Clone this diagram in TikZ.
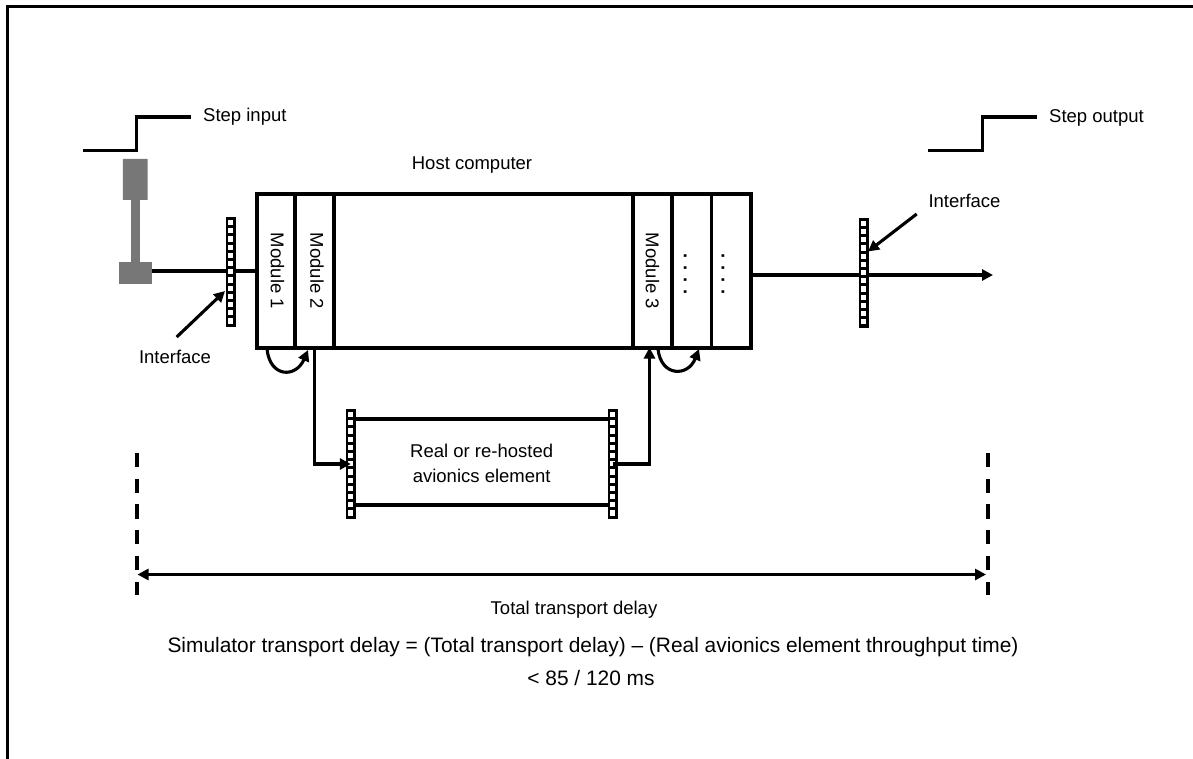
\documentclass[tikz,border=0pt]{standalone}
\usepackage{fontspec}
\setmainfont{Liberation Sans}
\usepackage{xcolor}
\usepackage{tikz}
\usetikzlibrary{arrows.meta, calc, shapes.misc}
\definecolor{stickgrey}{HTML}{777777}
\tikzset{hostcell/.style={draw,line width=3.6pt,minimum height=153.7pt,inner sep=0pt},
    celltext/.style={font=\fontsize{18.5}{25}\selectfont,inner sep=0pt},
    bigtext/.style={font=\fontsize{20.9}{25}\selectfont,inner sep=0pt},
    ifacestrip/.style={fill=black,minimum width=10pt,minimum height=110pt,inner sep=0pt},
    stickpart/.style={fill=stickgrey,inner sep=0pt},
    wire/.style={draw,line width=3.1pt},
    stepline/.style={draw,line width=3.6pt},
    tipped/.style={wire,-{Triangle[length=11pt,width=11pt]}},
    delaymark/.style={draw,line width=3.6pt,dash pattern=on 14.3pt off 11.4pt}}

\begin{document}
\begin{tikzpicture}[x=1pt,y=-1pt]
    \useasboundingbox (0,0) rectangle (1193,759);
    % Open frame
    \draw[line width=3.6pt] (7.5,759) -- (7.5,6.5) -- (1193,6.5);

    % Step shapes
    \draw[stepline] (83,150.5) -- (136.5,150.5) -- (136.5,117) -- (190.5,117);
    \node[celltext,anchor=west] (stepin) at (203,117) {Step input};
    \draw[stepline] (928,150.5) -- (982.5,150.5) -- (982.5,117) -- (1037,117);
    \node[celltext,anchor=west] (stepout) at (1049,118) {Step output};

    % Control stick
    \node[stickpart,minimum width=9.5pt,minimum height=64pt] (shaft) at (135.3,231) {};
    \node[stickpart,chamfered rectangle,chamfered rectangle xsep=3pt,chamfered rectangle ysep=3pt,
        minimum width=24.7pt,minimum height=41pt] (grip) at (135.3,179.5) {};
    \node[stickpart,minimum width=32.7pt,minimum height=22.6pt] (gripbase) at (135.3,273) {};

    % Host computer cells
    \node[celltext] (hostlabel) at (472,165) {Host computer};
    \node[hostcell,minimum width=38.3pt] (mod1) at (276,271) {};
    \node[hostcell,minimum width=39pt] (mod2) at (314.5,271) {};
    \node[hostcell,minimum width=299pt] (hostmid) at (483.5,271) {};
    \node[hostcell,minimum width=39pt] (mod3) at (652.5,271) {};
    \node[hostcell,minimum width=39.5pt] (dots1) at (691.7,271) {};
    \node[hostcell,minimum width=39.2pt] (dots2) at (731.1,271) {};
    \node[celltext] at ([xshift=1.5pt]mod1.center) {\rotatebox{-90}{Module 1}};
    \node[celltext] at ([xshift=2.5pt]mod2.center) {\rotatebox{-90}{Module 2}};
    \node[celltext] at (mod3.center) {\rotatebox{-90}{Module 3}};
    \node[celltext] at ([xshift=-6.5pt,yshift=-3pt]dots1.center) {\rotatebox{-90}{\bfseries . . . .}};
    \node[celltext] at ([xshift=-8pt,yshift=-3pt]dots2.center) {\rotatebox{-90}{\bfseries . . . .}};

    % Input and output lines
    \coordinate (outtip) at (993,275);
    \draw[wire] (mod1.west -| gripbase.east) -- (mod1.west);
    \draw[tipped] (outtip -| dots2.east) -- (outtip);

    % Avionics element
    \node[celltext,align=center,minimum width=252pt,minimum height=86pt] (element) at (481.7,463) {Real or re-hosted\\avionics element};
    \coordinate (elemtop) at (481.7,419);
    \coordinate (elembot) at (481.7,505);
    \draw[wire] (elemtop -| element.west) -- (elemtop -| element.east);
    \draw[wire] (elembot -| element.west) -- (elembot -| element.east);

    % Interface strips
    \node[ifacestrip] (ifin) at (230.7,272) {};
    \node[ifacestrip] (ifout) at (863.7,272.8) {};
    \node[ifacestrip] (ifa) at (350.8,464) {};
    \node[ifacestrip] (ifb) at (612.7,464) {};
    \foreach \s in {ifin,ifout,ifa,ifb}
        \foreach \k in {0,...,12}
            \fill[white] ([yshift={-5.8pt-\k*8.2pt}]\s.north) +(-2.6,-2.6) rectangle +(2.6,2.6);

    % Interface labels
    \node[celltext] (iflabelin) at (175,357) {Interface};
    \node[celltext] (iflabelout) at (964.5,201) {Interface};
    \coordinate (iftipin) at (225,291);
    \coordinate (iftipout) at (868,251.5);
    \draw[tipped] (176.7,337) -- (iftipin);
    \draw[tipped] (916.7,214) -- (iftipout);

    % Routing through the element
    \coordinate (mod3in) at (649.5,347.5);
    \draw[tipped] (mod2.south) |- (ifa.center);
    \draw[tipped] (ifb.center) -| (mod3in);

    % Loops under the modules
    \draw[tipped] (267,349) .. controls (270,378) and (296,378) .. (308,350);
    \draw[tipped] (658,349) .. controls (661,377) and (688,377) .. (699,349);

    % Total delay span
    \coordinate (spanl) at (136.7,453);
    \coordinate (spanr) at (988,453);
    \draw[delaymark] (spanl) -- ++(0,142);
    \draw[delaymark] (spanr) -- ++(0,142);
    \draw[wire,{Triangle[length=11pt,width=11pt]}-{Triangle[length=11pt,width=11pt]}] (137.5,574.5) -- (986,574.5);
    \node[celltext] (totallabel) at (574,610) {Total transport delay};
    \node[bigtext] (formula) at (593,647) {Simulator transport delay = (Total transport delay) – (Real avionics element throughput time)};
    \node[bigtext] (limit) at (591,678) {< 85 / 120 ms};
\end{tikzpicture}
\end{document}
